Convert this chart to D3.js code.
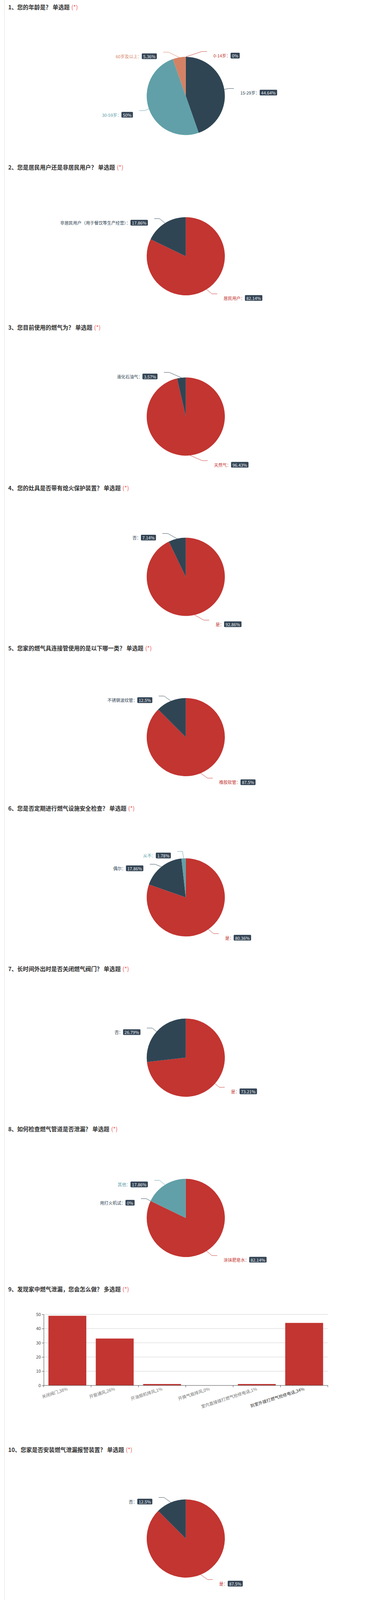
<!DOCTYPE html>
<html>
<head>
<meta charset="utf-8">
<script src="https://cdn.jsdelivr.net/npm/d3@7"></script>
<style>
  html, body { margin: 0; padding: 0; background: #fff; overflow: hidden; width: 100%; height: 100%; }
  svg { display: block; font-family: "Noto Sans CJK SC", "Noto Sans", sans-serif; }
</style>
</head>
<body>
<svg id="chart" viewBox="0 0 958 4502" preserveAspectRatio="xMinYMin meet" style="width:100vw;height:100vh"></svg>
<script>
// ---------------- data ----------------
const palette = ['#c23531', '#2f4554', '#61a0a8', '#d48265'];

const questionTitles = [
  '1、您的年龄是？ 单选题',
  '2、您是居民用户还是非居民用户？ 单选题',
  '3、您目前使用的燃气为？ 单选题',
  '4、您的灶具是否带有熄火保护装置？ 单选题',
  '5、您家的燃气具连接管使用的是以下哪一类？ 单选题',
  '6、您是否定期进行燃气设施安全检查？ 单选题',
  '7、长时间外出时是否关闭燃气阀门？ 单选题',
  '8、如何检查燃气管道是否泄漏？ 单选题',
  '9、发现家中燃气泄漏，您会怎么做？ 多选题',
  '10、您家是否安装燃气泄漏报警装置？ 单选题'
];

const q1Names = ['0-14岁', '15-29岁', '30-59岁', '60岁及以上'];
const q1Percents = [0, 44.64, 50, 5.36];

const q2Names = ['居民用户', '非居民用户（用于餐饮等生产经营）'];
const q2Percents = [82.14, 17.86];

const q3Names = ['天然气', '液化石油气'];
const q3Percents = [96.43, 3.57];

const q4Names = ['是', '否'];
const q4Percents = [92.86, 7.14];

const q5Names = ['橡胶软管', '不锈钢波纹管'];
const q5Percents = [87.5, 12.5];

const q6Names = ['是', '偶尔', '从不'];
const q6Percents = [80.36, 17.86, 1.78];

const q7Names = ['是', '否'];
const q7Percents = [73.21, 26.79];

const q8Names = ['涂抹肥皂水', '用打火机试', '其他'];
const q8Percents = [82.14, 0, 17.86];

const q9Categories = ['关闭阀门,38%', '开窗通风,26%', '开油烟机排风,1%', '开换气扇排风,0%', '室内直接拨打燃气抢修电话,1%', '到室外拨打燃气抢修电话,34%'];
const q9Counts = [49, 33, 1, 0, 1, 44];
const q9YTicks = [0, 10, 20, 30, 40, 50];

const q10Names = ['是', '否'];
const q10Percents = [87.5, 12.5];

// ---------------- layout ----------------
const SECTION_H = 451;
const PIE_CX = 523, PIE_CY = 270, PIE_R = 110;
const LEN1 = 15, LEN2 = 15, LABEL_H = 36;

const svg = d3.select('#chart');

// left border
svg.append('line')
  .attr('x1', 12.5).attr('x2', 12.5).attr('y1', 0).attr('y2', 4502)
  .attr('stroke', '#dcdcdc').attr('stroke-width', 1);

function drawTitle(idx) {
  const top = idx * SECTION_H;
  const t = svg.append('text')
    .attr('x', 23).attr('y', top + 26)
    .attr('font-size', 16).attr('font-weight', 'bold').attr('fill', '#333');
  t.append('tspan').text(questionTitles[idx]);
  t.append('tspan').attr('fill', '#ef5350').attr('font-weight', 'normal').attr('dx', 5).text('(*)');
}

// ECharts-like label placement with overlap avoidance
function adjustSingleSide(list, cx, cy, r, dir) {
  list.sort((a, b) => a.y - b.y);
  function shiftUp(end, delta) {
    for (let j = end; j >= 0; j--) {
      list[j].y -= delta;
      if (j > 0 && list[j].y > list[j - 1].y + list[j - 1].height) break;
    }
  }
  function shiftDown(start, end, delta) {
    for (let j = start; j < end; j++) {
      list[j].y += delta;
      if (j > start && j + 1 < end && list[j + 1].y > list[j].y + list[j].height) {
        shiftUp(j, delta / 2);
        return;
      }
    }
    shiftUp(end - 1, delta / 2);
  }
  function changeX(sub, isDown) {
    let last = isDown ? Number.MAX_VALUE : 0;
    sub.forEach(it => {
      const deltaY = Math.abs(it.y - cy);
      let deltaX = (deltaY <= r + it.len + 1e-6)
        ? Math.sqrt(Math.pow(r + it.len + it.len2, 2) - deltaY * deltaY)
        : Math.abs(it.x - cx);
      if (isDown && deltaX >= last) deltaX = last - 10;
      if (!isDown && deltaX <= last) deltaX = last + 10;
      it.x = cx + deltaX * dir;
      last = deltaX;
    });
  }
  let lastY = 0;
  for (let i = 0; i < list.length; i++) {
    const delta = list[i].y - lastY;
    if (delta < 0) shiftDown(i, list.length, -delta);
    lastY = list[i].y + list[i].height;
  }
  changeX(list.filter(d => d.y < cy), false);
  changeX(list.filter(d => d.y >= cy), true);
}

function drawPie(idx, names, values) {
  drawTitle(idx);
  const top = idx * SECTION_H;
  const cx = PIE_CX, cy = top + PIE_CY, r = PIE_R;
  const pie = d3.pie().sort(null).value(d => d.v).startAngle(0).endAngle(2 * Math.PI);
  const arcs = pie(names.map((n, i) => ({ name: n, v: values[i], color: palette[i % palette.length] })));
  const arc = d3.arc().innerRadius(0).outerRadius(r);
  const g = svg.append('g');
  g.selectAll('path').data(arcs).join('path')
    .attr('transform', `translate(${cx},${cy})`)
    .attr('d', arc)
    .attr('fill', d => d.data.color);

  const labels = arcs.map(a => {
    const mid = (a.startAngle + a.endAngle) / 2;
    const dx = Math.sin(mid), dy = -Math.cos(mid);
    const x = cx + r * dx, y = cy + r * dy;
    const x1 = x + dx * LEN1, y1 = y + dy * LEN1;
    const x2 = x1 + (dx < 0 ? -1 : 1) * LEN2;
    return {
      arc: a, x: x2 + (dx < 0 ? -5 : 5), y: y1, height: LABEL_H,
      len: LEN1, len2: LEN2, points: [[x, y], [x1, y1], [x2, y1]]
    };
  });
  const leftList = labels.filter(l => l.x < cx);
  const rightList = labels.filter(l => l.x >= cx);
  rightList.forEach(l => l.right = true);
  leftList.forEach(l => l.right = false);
  adjustSingleSide(rightList, cx, cy, r, 1);
  adjustSingleSide(leftList, cx, cy, r, -1);
  labels.forEach(l => {
    const p = l.points;
    const dist = p[1][0] - p[2][0];
    p[2][0] = l.x < cx ? l.x + 3 : l.x - 3;
    p[1][1] = p[2][1] = l.y;
    p[1][0] = p[2][0] + dist;
  });

  labels.forEach(l => {
    const color = l.arc.data.color;
    g.append('polyline')
      .attr('points', l.points.map(p => p.join(',')).join(' '))
      .attr('fill', 'none').attr('stroke', color).attr('stroke-width', 1);
    const lg = g.append('g');
    const rect = lg.append('rect');
    const nameT = lg.append('text').attr('font-size', 12).attr('fill', color)
      .attr('dominant-baseline', 'central').text(l.arc.data.name + '：');
    const pctT = lg.append('text').attr('font-size', 12).attr('fill', '#eee')
      .attr('dominant-baseline', 'central').text(l.arc.data.v + '%');
    const wName = nameT.node().getComputedTextLength();
    const wPct = pctT.node().getComputedTextLength();
    const boxW = wPct + 8;
    const total = wName + boxW;
    const left = l.right ? l.x + 15 : l.x - 15 - total;
    const yc = l.y + 11.5;
    nameT.attr('x', left).attr('y', yc);
    rect.attr('x', left + wName).attr('y', yc - 8).attr('width', boxW).attr('height', 16)
      .attr('rx', 2).attr('fill', '#334455');
    pctT.attr('x', left + wName + 4).attr('y', yc);
  });
}

function drawBar(idx) {
  drawTitle(idx);
  const top = idx * SECTION_H;
  const left = 123, right = 923;
  const yBottom = top + 290.3, yTop = top + 90.3;
  const x = d3.scaleBand().domain(q9Categories).range([left, right]).padding(0);
  const y = d3.scaleLinear().domain([0, 50]).range([yBottom, yTop]);
  const g = svg.append('g');

  g.selectAll('line.grid').data(q9YTicks.filter(t => t > 0)).join('line')
    .attr('class', 'grid')
    .attr('x1', left).attr('x2', right)
    .attr('y1', d => y(d)).attr('y2', d => y(d))
    .attr('stroke', '#ccc').attr('stroke-width', 1);

  const bw = x.bandwidth();
  g.selectAll('rect.bar').data(q9Categories).join('rect')
    .attr('class', 'bar')
    .attr('x', d => x(d) + bw * 0.1)
    .attr('width', bw * 0.8)
    .attr('y', (d, i) => y(q9Counts[i]))
    .attr('height', (d, i) => y(0) - y(q9Counts[i]))
    .attr('fill', '#c23531');

  const yAxis = d3.axisLeft(y).tickValues(q9YTicks).tickSize(5).tickSizeOuter(0).tickPadding(3);
  const ya = g.append('g').attr('transform', `translate(${left},0)`).call(yAxis);
  ya.select('.domain').attr('stroke', '#333');
  ya.selectAll('.tick line').attr('stroke', '#333');
  ya.selectAll('.tick text').attr('font-size', 12).attr('fill', '#444')
    .attr('font-family', '"Noto Sans CJK SC", "Noto Sans", sans-serif');

  g.append('line').attr('x1', left).attr('x2', right).attr('y1', y(0)).attr('y2', y(0))
    .attr('stroke', '#333').attr('stroke-width', 1);
  const tickXs = q9Categories.map(c => x(c)).concat([right]);
  g.selectAll('line.xtick').data(tickXs).join('line')
    .attr('class', 'xtick')
    .attr('x1', d => d).attr('x2', d => d)
    .attr('y1', y(0)).attr('y2', y(0) + 5)
    .attr('stroke', '#333');
  g.selectAll('text.xl').data(q9Categories).join('text')
    .attr('class', 'xl')
    .attr('transform', d => `translate(${x(d) + bw / 2},${y(0) + 8}) rotate(-18)`)
    .attr('text-anchor', 'end')
    .attr('dominant-baseline', 'central')
    .attr('font-size', 12)
    .attr('fill', (d, i) => i === q9Categories.length - 1 ? '#333' : '#777')
    .text(d => d);
}

drawPie(0, q1Names, q1Percents);
drawPie(1, q2Names, q2Percents);
drawPie(2, q3Names, q3Percents);
drawPie(3, q4Names, q4Percents);
drawPie(4, q5Names, q5Percents);
drawPie(5, q6Names, q6Percents);
drawPie(6, q7Names, q7Percents);
drawPie(7, q8Names, q8Percents);
drawBar(8);
drawPie(9, q10Names, q10Percents);
</script>
</body>
</html>
